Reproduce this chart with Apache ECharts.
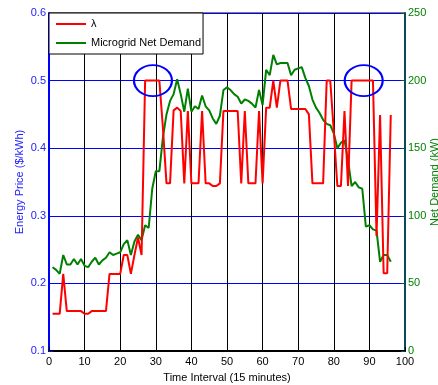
<!DOCTYPE html>
<html>
<head>
<meta charset="utf-8">
<script src="https://cdn.jsdelivr.net/npm/echarts@6/dist/echarts.min.js"></script>
<style>
html,body{margin:0;padding:0;background:#fff;}
#chart{width:438px;height:385px;}
</style>
</head>
<body>
<div id="chart"></div>
<script>
// Energy price λ ($/kWh) for intervals 1..96
const lambdaPrice = [
  0.155, 0.155, 0.155, 0.214, 0.159, 0.159, 0.159, 0.159, 0.159, 0.155,
  0.155, 0.159, 0.159, 0.159, 0.159, 0.159, 0.214, 0.214, 0.214, 0.214,
  0.242, 0.242, 0.214, 0.242, 0.268, 0.242, 0.5, 0.5, 0.5, 0.5,
  0.5, 0.43, 0.348, 0.348, 0.456, 0.46, 0.455, 0.348, 0.455, 0.348,
  0.348, 0.348, 0.455, 0.348, 0.348, 0.344, 0.344, 0.348, 0.455, 0.455,
  0.455, 0.455, 0.455, 0.348, 0.455, 0.348, 0.348, 0.348, 0.455, 0.348,
  0.46, 0.46, 0.5, 0.46, 0.5, 0.5, 0.5, 0.458, 0.458, 0.458,
  0.458, 0.458, 0.45, 0.348, 0.348, 0.348, 0.348, 0.5, 0.5, 0.425,
  0.344, 0.344, 0.455, 0.344, 0.5, 0.5, 0.5, 0.5, 0.5, 0.5,
  0.5, 0.27, 0.449, 0.215, 0.215, 0.449
];
// Microgrid net demand (kW) for intervals 1..96
const netDemand = [
  62, 60, 57, 71, 64, 64, 68, 64, 68, 63,
  62, 66, 69, 64, 67, 69, 73, 71, 72, 73,
  79, 82, 71, 81, 86, 82, 93, 91, 120, 133,
  133, 158, 175, 185, 190, 201, 190, 177, 194, 177,
  181, 179, 189, 181, 178, 172, 168, 174, 193, 195,
  193, 190, 188, 183, 186, 185, 183, 180, 193, 182,
  208, 204, 219, 212, 213, 213, 213, 204, 208, 209,
  210, 202, 196, 186, 180, 176, 171, 168, 167, 161,
  150, 154, 156, 141, 122, 125, 121, 120, 92, 93,
  90, 89, 66, 71, 71, 66
];
const timeIntervals = lambdaPrice.map((_, i) => i + 1);
const timeTicks = [0, 10, 20, 30, 40, 50, 60, 70, 80, 90, 100];
const priceTicks = [0.1, 0.2, 0.3, 0.4, 0.5, 0.6];
const demandTicks = [0, 50, 100, 150, 200, 250];
// highlighted peak regions (interval, price)
const highlightPoints = [[29.2, 0.5], [88.4, 0.5]];

const FONT = '"Liberation Sans", Arial, sans-serif';
const LEGEND_ICON = 'path://M0,0H30V2H0Z';
const chart = echarts.init(document.getElementById('chart'), null, {renderer: 'canvas'});
const option = {
  animation: false,
  backgroundColor: '#fff',
  textStyle: {fontFamily: FONT},
  grid: {left: 49, right: 33, top: 13, bottom: 34, show: true, borderColor: '#000', borderWidth: 1,
         containLabel: false, outerBoundsMode: 'none'},
  legend: {
    left: 49, top: 13, orient: 'vertical',
    backgroundColor: '#fff', borderColor: '#000', borderWidth: 1,
    padding: [5, 2, 5, 7], itemWidth: 30, itemHeight: 12, itemGap: 7,
    symbolKeepAspect: true,
    textStyle: {fontFamily: FONT, fontSize: 11, color: '#000', lineHeight: 12},
    data: [
      {name: 'λ', icon: LEGEND_ICON},
      {name: 'Microgrid Net Demand', icon: LEGEND_ICON}
    ]
  },
  xAxis: {
    type: 'value', min: timeTicks[0], max: timeTicks[timeTicks.length - 1], interval: timeTicks[1] - timeTicks[0],
    name: 'Time Interval (15 minutes)', nameLocation: 'middle', nameGap: 21, nameMoveOverlap: false,
    nameTextStyle: {fontFamily: FONT, fontSize: 11, color: '#000'},
    axisLine: {lineStyle: {color: '#000', width: 2}},
    axisTick: {inside: true, length: 4, lineStyle: {color: '#000'}},
    axisLabel: {fontFamily: FONT, fontSize: 11, color: '#000', margin: 5},
    splitLine: {show: true, lineStyle: {color: '#000', width: 1}}
  },
  yAxis: [
    {
      type: 'value', position: 'left', min: priceTicks[0], max: priceTicks[priceTicks.length - 1], interval: 0.1,
      name: 'Energy Price ($/kWh)', nameLocation: 'middle', nameGap: 24, nameRotate: 90, nameMoveOverlap: false,
      nameTextStyle: {fontFamily: FONT, fontSize: 11, color: '#2020ff'},
      axisLine: {show: true, lineStyle: {color: '#0000ff', width: 2}},
      axisTick: {inside: true, length: 4, lineStyle: {color: '#0000ff'}},
      axisLabel: {fontFamily: FONT, fontSize: 11, color: '#2020ff', margin: 3, formatter: v => v.toFixed(1)},
      splitLine: {show: true, lineStyle: {color: '#0000ff', width: 1}}
    },
    {
      type: 'value', position: 'right', min: demandTicks[0], max: demandTicks[demandTicks.length - 1], interval: demandTicks[1] - demandTicks[0],
      name: 'Net Demand (kW)', nameLocation: 'middle', nameGap: 24, nameRotate: 90, nameMoveOverlap: false,
      nameTextStyle: {fontFamily: FONT, fontSize: 11, color: '#008000'},
      axisLine: {show: true, lineStyle: {color: '#0b4a58', width: 2}},
      axisTick: {inside: true, length: 4, lineStyle: {color: '#0b4a58'}},
      axisLabel: {fontFamily: FONT, fontSize: 11, color: '#008000', margin: 3},
      splitLine: {show: false}
    }
  ],
  series: [
    {
      name: 'λ', type: 'line', yAxisIndex: 0, symbol: 'none',
      data: timeIntervals.map((t, i) => [t, lambdaPrice[i]]),
      lineStyle: {color: '#ff0000', width: 2}, itemStyle: {color: '#ff0000'},
      z: 3,
      markPoint: {
        silent: true, symbol: 'circle', symbolSize: [38, 31],
        itemStyle: {color: 'rgba(0,0,0,0)', borderColor: '#0000ff', borderWidth: 2},
        label: {show: false},
        data: highlightPoints.map(p => ({coord: p}))
      }
    },
    {
      name: 'Microgrid Net Demand', type: 'line', yAxisIndex: 1, symbol: 'none',
      data: timeIntervals.map((t, i) => [t, netDemand[i]]),
      lineStyle: {color: '#008000', width: 2}, itemStyle: {color: '#008000'},
      z: 2
    }
  ]
};
chart.setOption(option);
</script>
</body>
</html>
